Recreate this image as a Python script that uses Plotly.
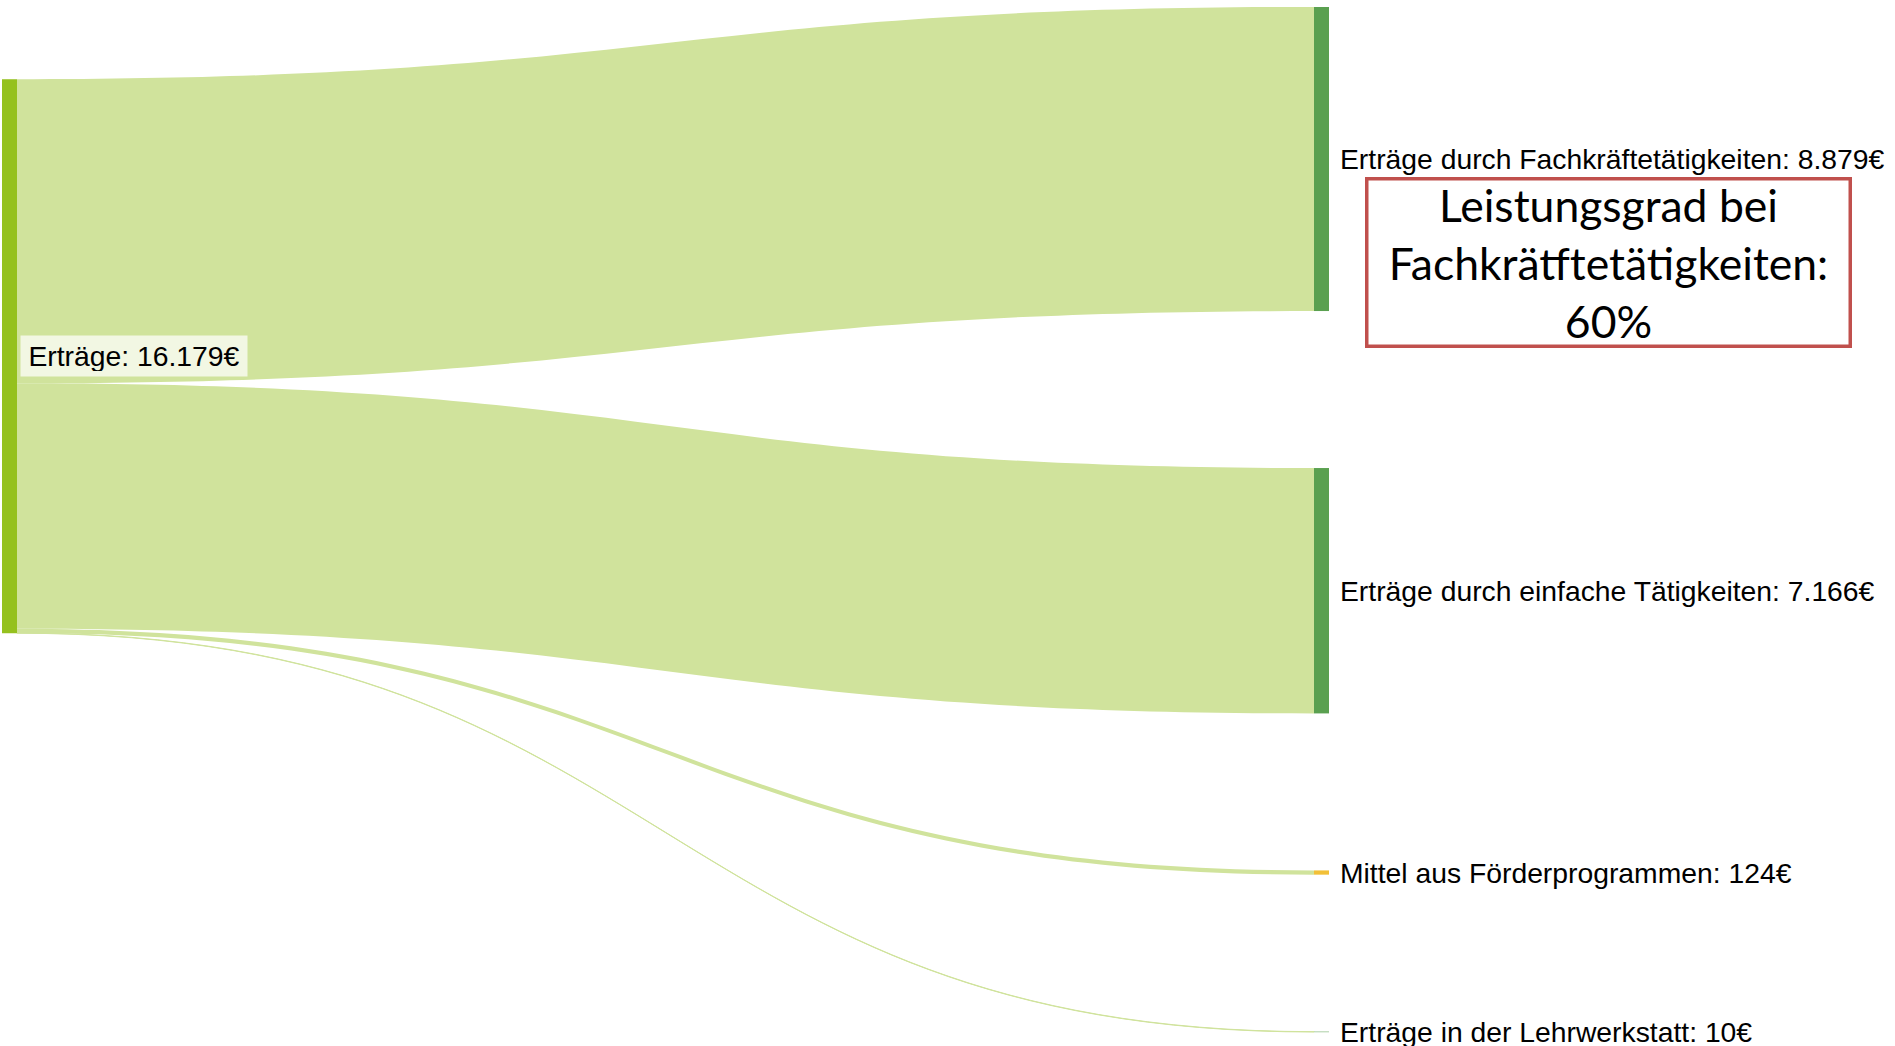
import plotly.graph_objects as go

# ---- data ----
source_name = "Erträge"
target_names = [
    "Erträge durch Fachkräftetätigkeiten",
    "Erträge durch einfache Tätigkeiten",
    "Mittel aus Förderprogrammen",
    "Erträge in der Lehrwerkstatt",
]
target_values = [8879, 7166, 124, 10]
total_value = 16179
callout_lines = ["Leistungsgrad bei", "Fachkrätftetätigkeiten:", "60%"]

# ---- styling ----
W, H = 1895, 1046
M_L, M_R, M_T, M_B = 2, 566, 7, 14
PAD = 157
THICK = 15
node_colors = ["#95c11f", "#5aa050", "#5aa050", "#f2c037", "#5aa050"]
link_color = "#d0e39c"

def fmt(v):
    return f"{v:,}".replace(",", ".") + "€"

labels = [source_name] + target_names
fig = go.Figure(go.Sankey(
    arrangement="snap",
    node=dict(
        label=[""] * len(labels),
        customdata=labels,
        hovertemplate="%{customdata}: %{value}<extra></extra>",
        color=node_colors,
        pad=PAD,
        thickness=THICK,
        line=dict(width=0),
    ),
    link=dict(
        source=[0] * len(target_values),
        target=list(range(1, len(target_values) + 1)),
        value=target_values,
        color=[link_color] * len(target_values),
    ),
))

# ---- label placement derived from the data (mirrors sankey stacking) ----
plot_w = W - M_L - M_R
plot_h = H - M_T - M_B
ky = (plot_h - (len(target_values) - 1) * PAD) / sum(target_values)
centers = []
acc = 0
for i, v in enumerate(target_values):
    top = acc * ky + i * PAD
    centers.append(top + v * ky / 2)
    acc += v
left_center = sum(c * v for c, v in zip(centers, target_values)) / sum(target_values)

def py(pix):  # pixel from top of plot area -> paper y
    return 1 - pix / plot_h

annotations = []
label_font = dict(family="Liberation Sans, Arial, sans-serif", size=28.3, color="#000000")
for name, v, c in zip(target_names, target_values, centers):
    annotations.append(dict(
        text=f"{name}: {fmt(v)}", x=1 + 9 / plot_w, y=py(c),
        xref="paper", yref="paper", xanchor="left", yanchor="middle",
        showarrow=False, font=label_font,
    ))
annotations.append(dict(
    text=f"{source_name}: {fmt(total_value)}", x=(20 - M_L) / plot_w, y=py(left_center),
    xref="paper", yref="paper", xanchor="left", yanchor="middle",
    showarrow=False, font=label_font, bgcolor="rgba(255,255,255,0.72)",
    borderpad=5, width=216, height=30,
))
annotations.append(dict(
    text="<br>".join(callout_lines), x=(1609 - M_L) / plot_w, y=py(262 - M_T),
    xref="paper", yref="paper", xanchor="center", yanchor="middle",
    showarrow=False, font=dict(family="Lato, Carlito, sans-serif", size=44.5, color="#000000"),
    bordercolor="#c0504d", borderwidth=3.5, bgcolor="#ffffff",
    width=478, height=162, align="center",
))

fig.update_layout(
    width=W, height=H,
    margin=dict(l=M_L, r=M_R, t=M_T, b=M_B),
    paper_bgcolor="#ffffff",
    annotations=annotations,
)
fig.write_html(
    "out.html",
    config={"displayModeBar": False},
    post_script="document.body.style.margin='0';document.body.style.overflow='hidden';",
)
